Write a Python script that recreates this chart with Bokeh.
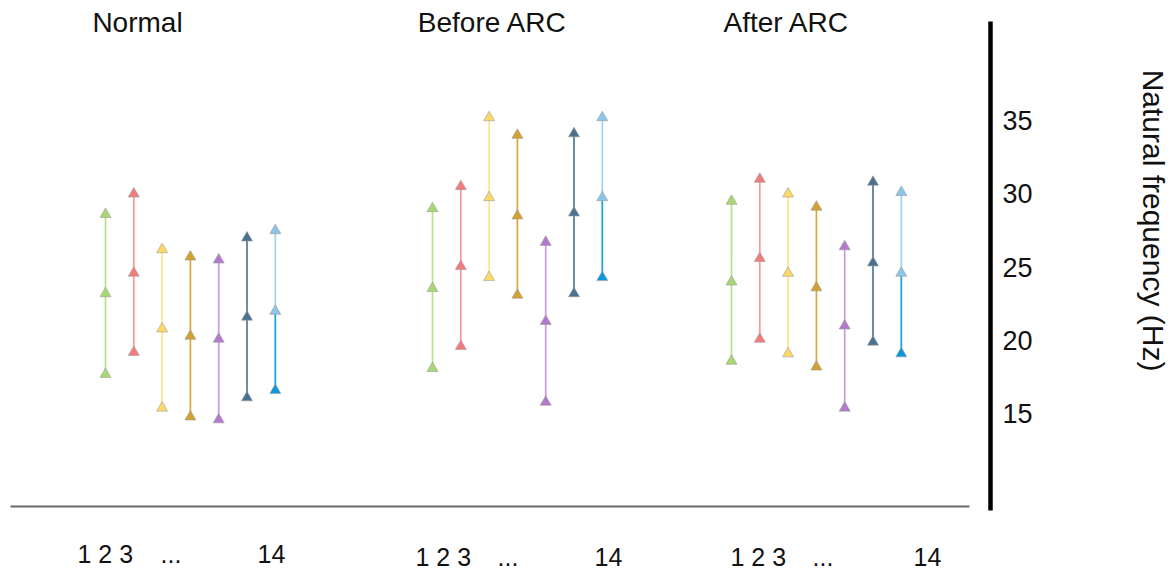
from math import pi
from bokeh.plotting import figure
from bokeh.models import Range1d, ColumnDataSource
from bokeh.core.properties import value
from bokeh.embed import file_html
from bokeh.resources import INLINE

# ---------------- data ----------------
groups = ["Normal", "Before ARC", "After ARC"]

normal_low = [17.7, 19.2, 15.4, 14.8, 14.6, 16.1, 16.6]
normal_mid = [23.2, 24.6, 20.8, 20.3, 20.1, 21.6, 22.0]
normal_high = [28.6, 30.0, 26.2, 25.7, 25.5, 27.0, 27.5]

before_low = [18.1, 19.6, 24.3, 23.1, 15.8, 23.2, 24.3]
before_mid = [23.55, 25.05, 29.75, 28.5, 21.3, 28.7, 29.75]
before_high = [29.0, 30.5, 35.2, 34.0, 26.7, 34.1, 35.2]

after_low = [18.6, 20.1, 19.1, 18.2, 15.4, 19.9, 19.1]
after_mid = [24.0, 25.6, 24.6, 23.6, 21.0, 25.3, 24.6]
after_high = [29.5, 31.0, 30.0, 29.1, 26.4, 30.8, 30.1]

y_ticks = [15, 20, 25, 30, 35]
y_title = "Natural frequency (Hz)"
x_texts = ["1 2 3", "...", "14"]

# ---------------- styles / layout ----------------
upper_colors = ["#b9e08c", "#f59a9a", "#ffe48a", "#d6a83c", "#c99ce0", "#4f7a96", "#a3d2f0"]
lower_colors = ["#b9e08c", "#f59a9a", "#ffe48a", "#d6a83c", "#c99ce0", "#4f7a96", "#14a0e2"]
marker_top = ["#a8d872", "#f27c7c", "#ffd966", "#d4a030", "#b478cf", "#4a7290", "#8cc6ea"]
marker_low = ["#a8d872", "#f27c7c", "#ffd966", "#d4a030", "#b478cf", "#4a7290", "#0a98dc"]

group_start = [105, 432, 731]
spacing = 28.3
title_x = [137, 492, 786]
title_y = 41.68
xtext_pos = [[77, 160, 257], [415, 497, 594], [730, 812, 913]]
xtext_y = [5.45, 5.25, 5.25]
axis_x = 990
axis_y0, axis_y1 = 8.41, 41.75
base_y = 8.68
tick_x = 1002
ytitle_x, ytitle_y = 1153, 28.18
FONT = "Liberation Sans"
TXT = "#111111"

W, H = 1174, 573
p = figure(width=W, height=H, output_backend="svg", toolbar_location=None,
           x_axis_location=None, y_axis_location=None,
           min_border=0, x_range=Range1d(0, W), y_range=Range1d(4.114, 43.18))
p.outline_line_color = None
p.xgrid.visible = False
p.ygrid.visible = False
p.background_fill_color = "white"
p.border_fill_color = "white"

# baseline and vertical axis line
p.segment(x0=[10], y0=[base_y], x1=[969], y1=[base_y], line_color="#6b6b6b", line_width=2)
p.segment(x0=[axis_x], y0=[axis_y0], x1=[axis_x], y1=[axis_y1], line_color="black", line_width=4.5)

series = [(normal_low, normal_mid, normal_high),
          (before_low, before_mid, before_high),
          (after_low, after_mid, after_high)]

for g, (lo, mid, hi) in enumerate(series):
    xs = [group_start[g] + i * spacing for i in range(len(lo))]
    src = ColumnDataSource(dict(x=xs, lo=lo, mid=mid, hi=hi,
                                cu=upper_colors, cl=lower_colors,
                                mt=marker_top, ml=marker_low))
    p.segment(x0="x", y0="lo", x1="x", y1="mid", line_color="cl", line_width=1.7, source=src)
    p.segment(x0="x", y0="mid", x1="x", y1="hi", line_color="cu", line_width=1.7, source=src)
    for ycol, ccol in (("lo", "ml"), ("mid", "mt"), ("hi", "mt")):
        p.scatter(x="x", y=ycol, marker="triangle", size=11, fill_color=ccol,
                  line_color="#9a9a9a", line_width=0.6, source=src)

# group titles
p.text(x=title_x, y=[title_y] * len(groups), text=groups, text_align="center",
       text_baseline="middle", text_font=value(FONT), text_font_size="28px", text_color=TXT)

# bottom category texts
bx, by, bt = [], [], []
for g in range(len(groups)):
    for t, xx in zip(x_texts, xtext_pos[g]):
        bx.append(xx)
        by.append(xtext_y[g])
        bt.append(t)
p.text(x=bx, y=by, text=bt, text_align="left", text_baseline="middle",
       text_font=value(FONT), text_font_size="25px", text_color=TXT)

# y tick labels
p.text(x=[tick_x] * len(y_ticks), y=y_ticks, text=[str(t) for t in y_ticks],
       text_align="left", text_baseline="middle", text_font=value(FONT),
       text_font_size="27px", text_color=TXT)

# y axis title
p.text(x=[ytitle_x], y=[ytitle_y], text=[y_title], angle=-pi / 2, text_align="center",
       text_baseline="middle", text_font=value(FONT), text_font_size="30px", text_color=TXT)

open("out.html", "w").write(file_html(p, INLINE))
